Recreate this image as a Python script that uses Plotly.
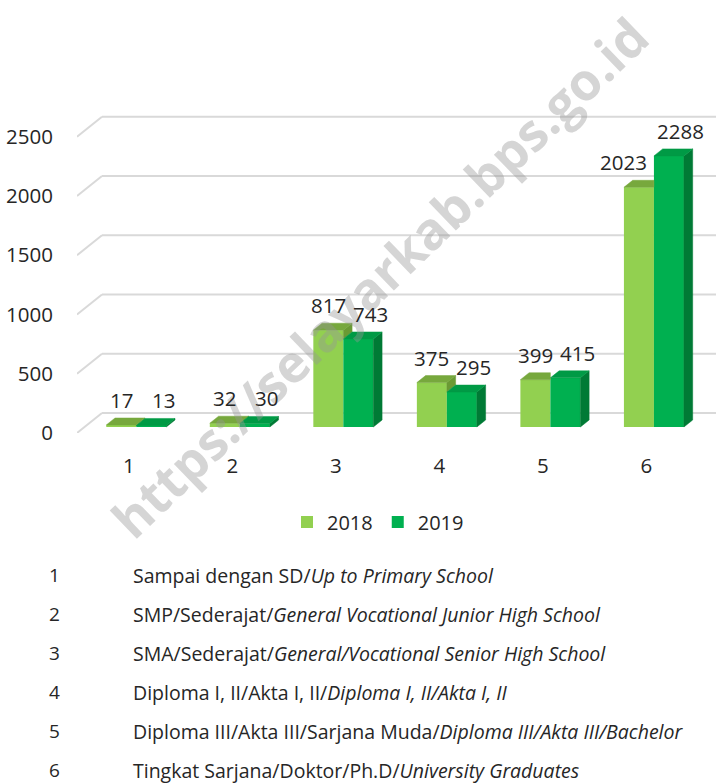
import plotly.graph_objects as go

# data
categories = [1, 2, 3, 4, 5, 6]
years = ["2018", "2019"]
values_2018 = [17, 32, 817, 375, 399, 2023]
values_2019 = [13, 30, 743, 295, 415, 2288]
y_ticks = [0, 500, 1000, 1500, 2000, 2500]
edu_native = [
    "Sampai dengan SD/",
    "SMP/Sederajat/",
    "SMA/Sederajat/",
    "Diploma I, II/Akta I, II/",
    "Diploma III/Akta III/Sarjana Muda/",
    "Tingkat Sarjana/Doktor/Ph.D/",
]
edu_english = [
    "Up to Primary School",
    "General Vocational Junior High School",
    "General/Vocational Senior High School",
    "Diploma I, II/Akta I, II",
    "Diploma III/Akta III/Bachelor",
    "University Graduates",
]
watermark = "https://selayarkab.bps.go.id"

# colours (front, top, side) like the Excel 3D columns
front_colors = ["#92D050", "#00B050"]
top_colors = ["#77A83D", "#009A45"]
side_colors = ["#6B9A34", "#007A35"]
grid_color = "#D9D9D9"
text_color = "#262626"
FONT = "Open Sans"

# page geometry (pixels)
W, H = 716, 784
plot_left, plot_top, plot_bottom = 77, 60, 433
x_range = [0.5, 6.672]
y_range = [0, 3148]
cat_px = (W - plot_left) / (x_range[1] - x_range[0])
val_px = (plot_bottom - plot_top) / (y_range[1] - y_range[0])

# oblique depth: full depth moves 25px right and 20px up
depth_dx = 25 / cat_px
depth_dy = 20 / val_px
front_d, back_d = 0.3, 0.65
bar_w = 30 / cat_px
dd_x = (back_d - front_d) * depth_dx
dd_y = (back_d - front_d) * depth_dy
base = front_d * depth_dy

series = [values_2018, values_2019]

fig = go.Figure()

# front faces
for s, (year, vals) in enumerate(zip(years, series)):
    xs = [c + front_d * depth_dx + (s - 0.5) * bar_w for c in categories]
    fig.add_trace(go.Bar(
        x=xs, y=vals, base=base, width=bar_w, name=year,
        marker=dict(color=front_colors[s], line=dict(width=0)),
        hoverinfo="skip",
    ))


def poly_trace(px_list, py_list, color):
    return go.Scatter(
        x=px_list, y=py_list, mode="lines", fill="toself",
        fillcolor=color, line=dict(color=color, width=0.5),
        showlegend=False, hoverinfo="skip",
    )


# top and side faces
for s, vals in enumerate(series):
    other = series[1 - s]
    tx, ty, sx, sy = [], [], [], []
    for c, v, o in zip(categories, vals, other):
        xl = c + front_d * depth_dx + (s - 1) * bar_w
        xr = xl + bar_w
        top = base + v
        if s == 0 and o > v:
            # right part of the top is hidden by the taller 2019 column
            tx += [xl, xr, xr, xl + dd_x, xl, None]
            ty += [top, top, top + dd_y, top + dd_y, top, None]
        else:
            tx += [xl, xr, xr + dd_x, xl + dd_x, xl, None]
            ty += [top, top, top + dd_y, top + dd_y, top, None]
        if s == 0:
            if v > o:
                low = base + o
                sx += [xr, xr, xr + dd_x, xr + dd_x, xr, None]
                sy += [low, top, top + dd_y, low + dd_y, low, None]
        else:
            sx += [xr, xr, xr + dd_x, xr + dd_x, xr, None]
            sy += [base, top, top + dd_y, base + dd_y, base, None]
    if sx:
        fig.add_trace(poly_trace(sx, sy, side_colors[s]))
    fig.add_trace(poly_trace(tx, ty, top_colors[s]))

# back wall gridlines with the side wall diagonal
shapes = []
for v in y_ticks:
    shapes.append(dict(type="line", xref="x", yref="y", layer="below",
                       x0=x_range[0], y0=v, x1=x_range[0] + depth_dx, y1=v + depth_dy,
                       line=dict(color=grid_color, width=2)))
    shapes.append(dict(type="line", xref="x", yref="y", layer="below",
                       x0=x_range[0] + depth_dx, y0=v + depth_dy, x1=x_range[1], y1=v + depth_dy,
                       line=dict(color=grid_color, width=2)))

annotations = [dict(
    text=watermark, x=379 / W, y=1 - 277 / H, xref="paper", yref="paper",
    textangle=-44, showarrow=False,
    font=dict(family=FONT, size=51.5, weight="bold", color="rgba(150,150,150,0.4)"),
)]

# value labels above the columns
for s, vals in enumerate(series):
    other = series[1 - s]
    for c, v, o in zip(categories, vals, other):
        xc = c + front_d * depth_dx + (s - 0.5) * bar_w
        shift = 12 if s == 1 else (-15 if (o - v) * val_px > 10 else 0)
        annotations.append(dict(
            text=str(v), x=xc, y=base + v, xref="x", yref="y",
            xshift=shift, yshift=25, showarrow=False, yanchor="middle",
            font=dict(family=FONT, size=20.5, color=text_color),
        ))

# category key below the chart
for i, (nat, eng) in enumerate(zip(edu_native, edu_english)):
    yy = 1 - (575 + 39 * i) / H
    annotations.append(dict(
        text=str(categories[i]), x=54 / W, y=yy, xref="paper", yref="paper",
        xanchor="center", yanchor="middle", showarrow=False,
        font=dict(family=FONT, size=19, color=text_color),
    ))
    annotations.append(dict(
        text=f"{nat}<i>{eng}</i>", x=131 / W, y=yy, xref="paper", yref="paper",
        xanchor="left", yanchor="middle", showarrow=False,
        font=dict(family=FONT, size=19.5, color=text_color),
    ))

fig.update_layout(
    width=W, height=H, autosize=False,
    margin=dict(l=0, r=0, t=0, b=0),
    paper_bgcolor="white", plot_bgcolor="white",
    barmode="overlay",
    font=dict(family=FONT, color=text_color),
    xaxis=dict(
        domain=[plot_left / W, 1], range=x_range,
        tickvals=categories, ticktext=[str(c) for c in categories],
        ticks="outside", ticklen=14, tickcolor="rgba(0,0,0,0)",
        showgrid=False, zeroline=False, showline=False, automargin=False,
        tickfont=dict(family=FONT, size=20.5, color=text_color),
    ),
    yaxis=dict(
        domain=[1 - plot_bottom / H, 1 - plot_top / H], range=y_range,
        tickvals=y_ticks,
        ticks="outside", ticklen=19, tickcolor="rgba(0,0,0,0)",
        showgrid=False, zeroline=False, showline=False, automargin=False,
        tickfont=dict(family=FONT, size=20.5, color=text_color),
    ),
    showlegend=True,
    legend=dict(
        orientation="h", x=378 / W, xanchor="center", y=1 - 522 / H, yanchor="middle",
        font=dict(family=FONT, size=20, color=text_color),
        bgcolor="rgba(0,0,0,0)", itemclick=False,
    ),
    shapes=shapes,
    annotations=annotations,
)

# drop the default page margin so the figure sits at the window corner
fig.write_html(
    "out.html",
    config={"displayModeBar": False},
    post_script="document.body.style.margin = '0';",
)
